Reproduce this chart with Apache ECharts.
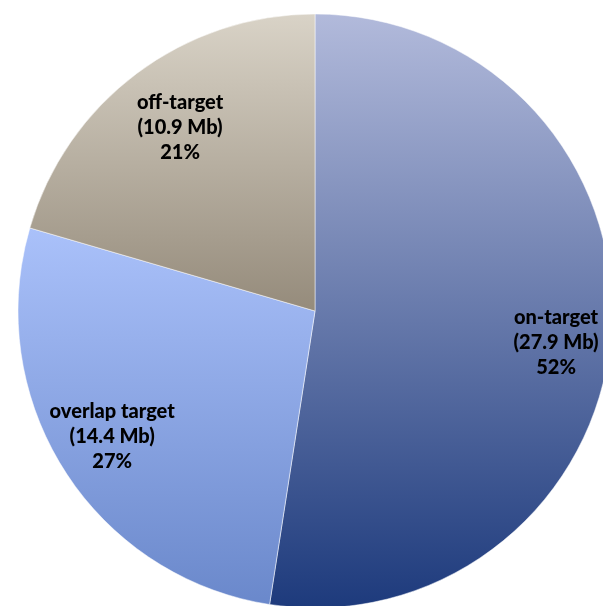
<!DOCTYPE html>
<html lang="en">
<head>
    <meta charset="UTF-8">
    <title>Target coverage</title>
    <script src="https://cdn.jsdelivr.net/npm/echarts@6/dist/echarts.min.js"></script>
    <style>
        html, body { margin: 0; padding: 0; background: #fff; }
    </style>
</head>
<body>
<div id="main" style="width:603px;height:606px;"></div>
<script type="text/javascript">
    // data
    var names = ['on-target', 'overlap target', 'off-target'];
    var sizesMb = [27.9, 14.4, 10.9];
    var pctLabels = ['52%', '27%', '21%'];

    // top / bottom colours of each slice's gradient
    var topColors = ['#b2badb', '#aac1fa', '#d9d3c7'];
    var bottomColors = ['#1d3a7c', '#6a88cb', '#958b7b'];
    // nudges to move labels where the original put them
    var labelOffsets = [[90, 20], [-75, 44], [-44, -62]];

    var myChart = echarts.init(document.getElementById('main'));

    var pieData = names.map(function (n, i) {
        return {
            name: n,
            value: sizesMb[i],
            itemStyle: {
                color: new echarts.graphic.LinearGradient(0, 0, 0, 1, [
                    {offset: 0, color: topColors[i]},
                    {offset: 1, color: bottomColors[i]}
                ])
            },
            label: {offset: labelOffsets[i]}
        };
    });

    var option = {
        animation: false,
        series: [
            {
                type: 'pie',
                center: [315, 311],
                radius: [0, 297],
                startAngle: 90,
                clockwise: true,
                avoidLabelOverlap: false,
                itemStyle: {borderColor: '#ffffff', borderWidth: 0.5},
                label: {
                    show: true,
                    position: 'inside',
                    color: '#000',
                    fontFamily: 'Lato',
                    fontWeight: 900,
                    fontSize: 20,
                    lineHeight: 25,
                    align: 'center',
                    formatter: function (p) {
                        return p.name + '\n(' + p.value + ' Mb)\n' + pctLabels[p.dataIndex];
                    }
                },
                labelLine: {show: false},
                emphasis: {disabled: true},
                data: pieData
            }
        ]
    };
    myChart.setOption(option);
</script>
</body>
</html>
